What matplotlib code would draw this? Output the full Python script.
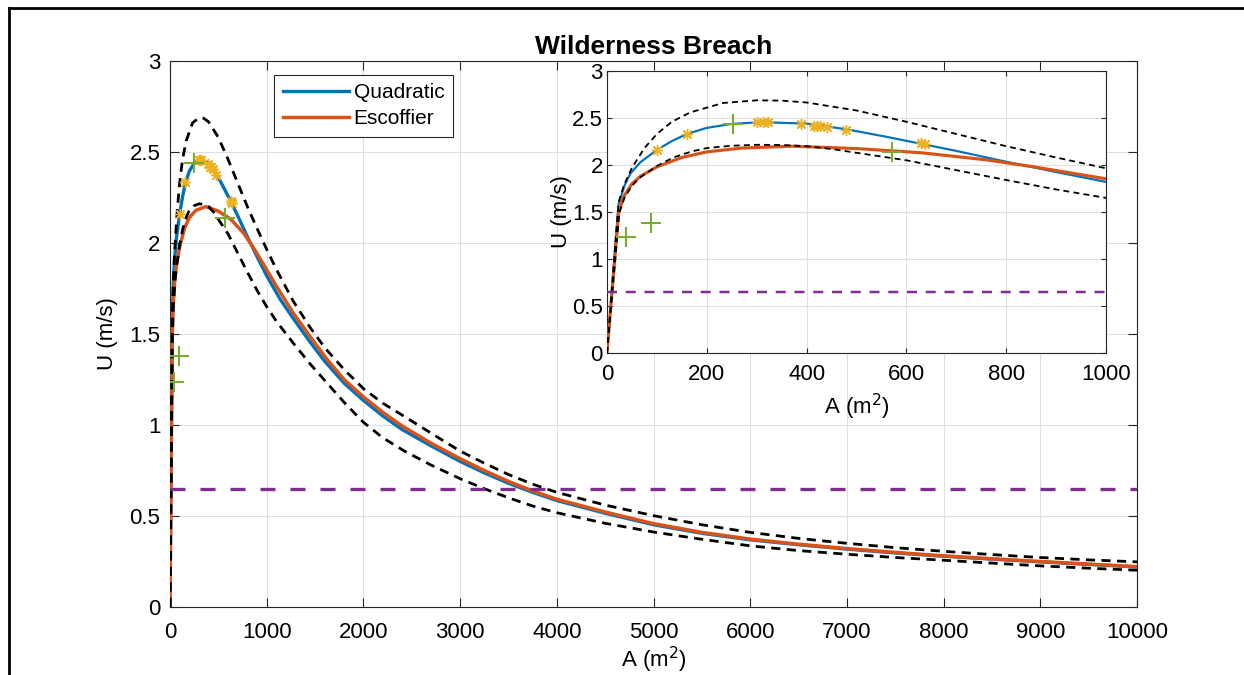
import numpy as np
import matplotlib
matplotlib.use('Agg')
import matplotlib.pyplot as plt
from matplotlib.lines import Line2D

plt.rcParams['font.family'] = ['Liberation Sans', 'DejaVu Sans']

# Quadratic fit (blue)
quad_A = [0, 23, 35, 47, 67, 100, 130, 160, 200, 250, 310, 400, 480, 560, 630, 700, 800,
          900, 1000, 1140, 1275, 1450, 1600, 1800, 2000, 2200, 2400, 2700, 3000, 3250,
          3500, 3750, 4000, 4500, 5000, 5500, 6000, 6500, 7000, 7500, 8000, 8500, 9000,
          9500, 10000]
quad_U = [0, 1.58, 1.78, 1.91, 2.03, 2.16, 2.255, 2.33, 2.395, 2.437, 2.456, 2.44, 2.38,
          2.30, 2.225, 2.15, 2.035, 1.925, 1.82, 1.69, 1.585, 1.455, 1.35, 1.23, 1.135,
          1.05, 0.975, 0.885, 0.80, 0.737, 0.68, 0.63, 0.585, 0.515, 0.452, 0.405, 0.369,
          0.342, 0.318, 0.297, 0.279, 0.263, 0.248, 0.234, 0.22]

# Escoffier fit (orange)
esc_A = [0, 23, 33, 50, 67, 100, 150, 200, 270, 370, 500, 630, 760, 850, 930, 1000, 1100,
         1275, 1450, 1625, 1800, 2000, 2200, 2400, 2700, 3000, 3250, 3500, 3750, 4000,
         4500, 5000, 5500, 6000, 6500, 7000, 7500, 8000, 8500, 9000, 9500, 10000]
esc_U = [0, 1.48, 1.66, 1.80, 1.88, 1.98, 2.08, 2.14, 2.18, 2.20, 2.175, 2.13, 2.055, 1.985,
         1.915, 1.853, 1.763, 1.615, 1.485, 1.36, 1.25, 1.155, 1.07, 0.995, 0.90, 0.815,
         0.75, 0.69, 0.638, 0.592, 0.522, 0.458, 0.41, 0.373, 0.345, 0.321, 0.30, 0.281,
         0.265, 0.25, 0.236, 0.222]

# bounds (black dashed)
up_A = [0, 23, 35, 50, 75, 100, 130, 167, 233, 300, 350, 400, 500, 600, 700, 800, 900,
        1000, 1100, 1275, 1450, 1600, 1800, 2000, 2200, 2430, 2700, 3000, 3250, 3500,
        3750, 4000, 4500, 5000, 5500, 6000, 6500, 7000, 7500, 8000, 8500, 9000, 9500, 10000]
up_U = [0, 1.6, 1.8, 1.97, 2.18, 2.33, 2.46, 2.56, 2.66, 2.688, 2.685, 2.665, 2.58, 2.46,
        2.33, 2.20, 2.08, 1.965, 1.855, 1.68, 1.535, 1.425, 1.305, 1.2, 1.12, 1.045, 0.955,
        0.857, 0.79, 0.728, 0.675, 0.63, 0.56, 0.502, 0.452, 0.41, 0.377, 0.35, 0.326,
        0.306, 0.288, 0.272, 0.259, 0.248]

lo_A = [0, 25, 35, 50, 67, 100, 133, 170, 200, 250, 300, 350, 400, 450, 500, 600, 700,
        800, 900, 1000, 1100, 1275, 1450, 1600, 1800, 2000, 2200, 2430, 2700, 3000, 3250,
        3500, 3750, 4000, 4500, 5000, 5500, 6000, 6500, 7000, 7500, 8000, 8500, 9000,
        9500, 10000]
lo_U = [0, 1.5, 1.65, 1.78, 1.87, 1.99, 2.08, 2.145, 2.18, 2.205, 2.215, 2.213, 2.20, 2.17,
        2.13, 2.05, 1.945, 1.84, 1.74, 1.65, 1.57, 1.45, 1.335, 1.245, 1.125, 1.015, 0.93,
        0.855, 0.78, 0.705, 0.65, 0.60, 0.555, 0.518, 0.46, 0.412, 0.372, 0.336, 0.31,
        0.29, 0.272, 0.257, 0.241, 0.226, 0.213, 0.202]

# observations
star_A = [100, 160, 300, 313, 323, 388, 415, 420, 427, 440, 479, 630, 637]
star_U = [2.16, 2.335, 2.456, 2.455, 2.455, 2.435, 2.42, 2.415, 2.415, 2.405, 2.375, 2.23, 2.22]
plus_A = [39, 88, 253, 571]
plus_U = [1.235, 1.38, 2.44, 2.14]

u_crit = 0.65

BLUE = '#0072BD'
ORANGE = '#D95319'
YELLOW = '#EDB120'
PURPLE = '#7E2F8E'
GREEN = '#77AC30'
AXC = '#262626'
GRIDC = '#dfdfdf'


def draw(ax, thin=False):
    s = 0.65 if thin else 1.0
    ax.plot(quad_A, quad_U, color=BLUE, lw=2.4 * s, label='Quadratic', zorder=3)
    ax.plot(esc_A, esc_U, color=ORANGE, lw=2.5 * (0.9 if thin else 1.0), label='Escoffier', zorder=3)
    for xa, ya in [(up_A, up_U), (lo_A, lo_U)]:
        ln, = ax.plot(xa, ya, color='black', lw=2.0 * s, zorder=4)
        ln.set_dashes((3.3, 2.3))
    pl = ax.axhline(u_crit, color=PURPLE, lw=2.4 * (0.75 if thin else 1.0), zorder=4)
    pl.set_dashes((4.5, 4.5) if not thin else (4.0, 3.5))
    ax.plot(star_A, star_U, ls='none', marker=(8, 2, 0), ms=8, mew=1.0, color=YELLOW, zorder=5)
    ax.plot(plus_A, plus_U, ls='none', marker='+', ms=14, mew=1.5, color=GREEN, zorder=5)

    ax.grid(True, color=GRIDC, lw=0.8)
    ax.set_axisbelow(True)
    for sp in ax.spines.values():
        sp.set_color(AXC)
        sp.set_linewidth(0.8)
    ax.tick_params(direction='in', top=True, right=True, colors=AXC, labelcolor='black',
                   labelsize=16, length=3.6 if thin else 6.5, width=0.8)
    ax.set_ylim(0, 3)
    ax.set_yticks(np.arange(0, 3.01, 0.5))
    ax.set_yticklabels([f'{v:g}' for v in np.arange(0, 3.01, 0.5)])
    ax.set_ylabel('U (m/s)', fontsize=16)
    ax.set_xlabel('A (m$^2$)', fontsize=16)


fig = plt.figure(figsize=(12.44, 6.75), dpi=100)

ax = fig.add_axes([170 / 1244, 1 - 607 / 675, (1137 - 170) / 1244, (607 - 61) / 675])
draw(ax)
ax.set_xlim(0, 10000)
ax.set_xticks(np.arange(0, 10001, 1000))
ax.tick_params(axis='x', pad=11)
ax.tick_params(axis='y', pad=7)
ax.xaxis.labelpad = 1
ax.yaxis.labelpad = 8
ax.set_title('Wilderness Breach', fontsize=19, fontweight='bold', pad=5)
leg = ax.legend(loc='upper left', bbox_to_anchor=(0.108, 0.975), fontsize=15,
                handlelength=3.2, frameon=True, fancybox=False, framealpha=1,
                edgecolor=AXC, borderpad=0.4, labelspacing=0.35, handletextpad=0.2,
                borderaxespad=0)
leg.get_frame().set_linewidth(0.8)

axi = fig.add_axes([607 / 1244, 1 - 353 / 675, (1106 - 607) / 1244, (353 - 71) / 675])
axi.set_facecolor('white')
draw(axi, thin=True)
axi.set_xlim(0, 1000)
axi.set_xticks(np.arange(0, 1001, 200))
axi.tick_params(axis='x', pad=8)
axi.tick_params(axis='y', pad=3)
axi.xaxis.labelpad = 5
axi.yaxis.labelpad = 0

# outer frame
fig.add_artist(Line2D([9 / 1244, 9 / 1244], [0, 1 - 8 / 675], transform=fig.transFigure,
                      color='black', lw=2))
fig.add_artist(Line2D([9 / 1244, 1], [1 - 8 / 675, 1 - 8 / 675], transform=fig.transFigure,
                      color='black', lw=2))

fig.savefig('out.png', dpi=100)
